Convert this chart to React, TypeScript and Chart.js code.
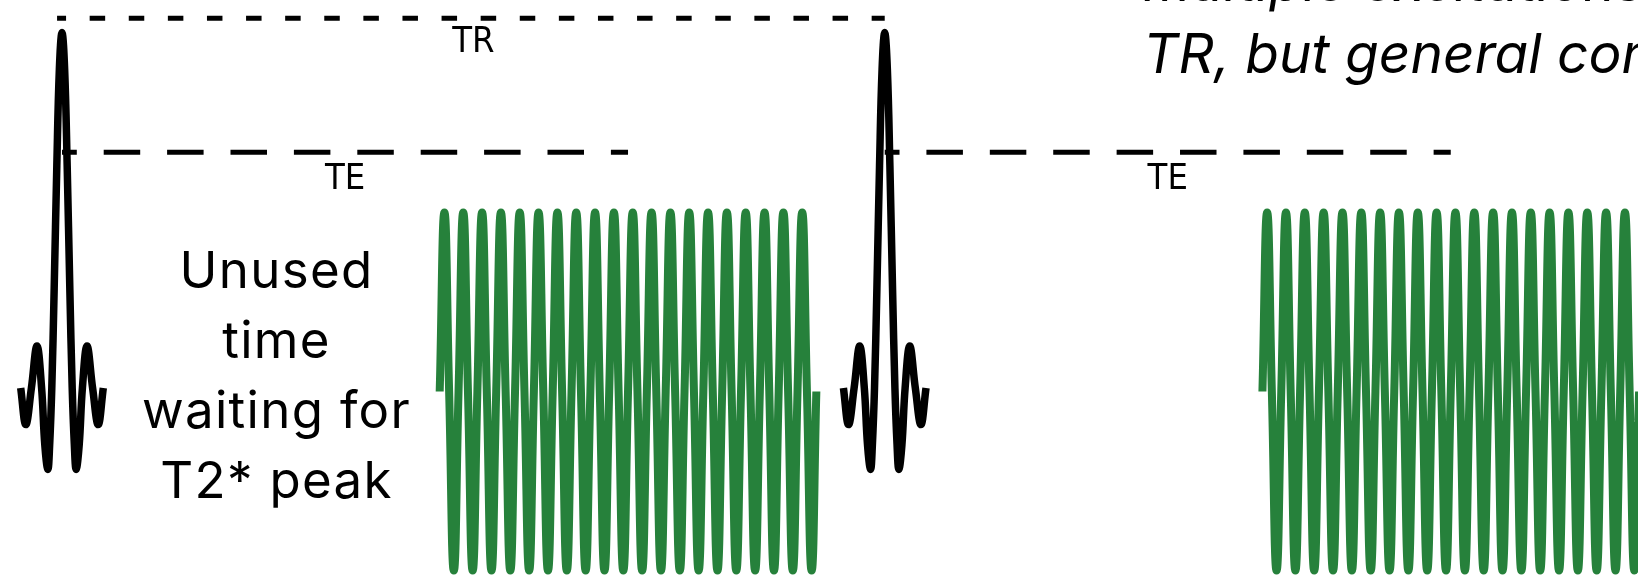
import React, { useEffect, useRef } from "react";
import { Chart, registerables } from "chart.js";

Chart.register(...registerables);

// ---- data (time in arbitrary units, TR = 100) ----
const TR = 100;
const TE = 68.8;
const ECHO_PERIOD = 2.289;

// RF excitation pulse (sinc-like)
const pulseTimes = [
  -5.02, -4.4, -3.72, -3.04, -2.48, -2.09, -1.72, -1.5, -1.24, -0.95, -0.63, -0.32, 0,
  0.32, 0.63, 0.95, 1.24, 1.5, 1.72, 2.09, 2.48, 3.04, 3.72, 4.4, 5.02,
];
const pulseAmps = [
  0, -0.103, 0, 0.118, 0, -0.16, -0.229, -0.16, 0, 0.28, 0.625, 0.897, 1,
  0.897, 0.625, 0.28, 0, -0.16, -0.229, -0.16, 0, 0.118, 0, -0.103, 0,
];

// echo signal samples (quarter-period steps), 20 cycles
const echoAmps = [
  0, 1, 0, -1, 0, 1, 0, -1, 0, 1, 0, -1, 0, 1, 0, -1,
  0, 1, 0, -1, 0, 1, 0, -1, 0, 1, 0, -1, 0, 1, 0, -1,
  0, 1, 0, -1, 0, 1, 0, -1, 0, 1, 0, -1, 0, 1, 0, -1,
  0, 1, 0, -1, 0, 1, 0, -1, 0, 1, 0, -1, 0, 1, 0, -1,
  0, 1, 0, -1, 0, 1, 0, -1, 0, 1, 0, -1, 0, 1, 0, -1,
  0,
];

const pulseStarts = [0, TR];
const trLine = [-0.6, TR];
const TR_LEVEL = 1.04;
const TE_LEVEL = 0.663;

const captionLines = ["Unused", "time", "waiting for", "T2* peak"];
const noteLines = ["multiple excitations per", "TR, but general concept"];
const trLabel = "TR";
const teLabel = "TE";

const BLACK = "#000000";
const GREEN = "rgb(38,129,59)";
const LABEL_FONT = '36px "DejaVu Sans Condensed", "Liberation Sans Narrow", "DejaVu Sans", sans-serif';

function pulsePoints(offset: number) {
  return pulseTimes.map((t, i) => ({ x: t + offset, y: pulseAmps[i] }));
}
function echoPoints(offset: number) {
  const step = ECHO_PERIOD / 4;
  const start = offset + TE - ((echoAmps.length - 1) / 2) * step;
  return echoAmps.map((a, i) => ({ x: start + i * step, y: a }));
}

const textPlugin = {
  id: "diagramText",
  afterDatasetsDraw(chart: any) {
    const { ctx, scales } = chart;
    const x = scales.x;
    const y = scales.y;
    ctx.save();
    ctx.fillStyle = BLACK;
    ctx.textAlign = "center";
    ctx.textBaseline = "alphabetic";

    // TR / TE labels
    ctx.font = LABEL_FONT;
    const trPx = y.getPixelForValue(TR_LEVEL);
    ctx.fillText(trLabel, x.getPixelForValue(TR / 2), trPx + 34);
    const tePx = y.getPixelForValue(TE_LEVEL);
    pulseStarts.forEach((s) => {
      ctx.fillText(teLabel, x.getPixelForValue(s + TE / 2), tePx + 37);
    });

    // caption
    ctx.font = '51px Inter, "Open Sans", sans-serif';
    try {
      (ctx as any).letterSpacing = "1.3px";
    } catch (e) {}
    const capX = x.getPixelForValue(26.07);
    const capY = y.getPixelForValue(0.2805);
    captionLines.forEach((line, i) => {
      ctx.fillText(line, capX, capY + i * 70);
    });
    try {
      (ctx as any).letterSpacing = "0px";
    } catch (e) {}

    // italic note top right
    ctx.font = 'italic 55px Inter, "Open Sans", sans-serif';
    ctx.textAlign = "left";
    const noteX = x.getPixelForValue(131.4);
    const noteY = y.getPixelForValue(0.885);
    noteLines.forEach((line, i) => {
      ctx.fillText(line, noteX, noteY - (noteLines.length - 1 - i) * 72);
    });
    ctx.restore();
  },
};

export default function App() {
  const canvasRef = useRef<HTMLCanvasElement | null>(null);

  useEffect(() => {
    document.body.style.margin = "0";
    const canvas = canvasRef.current;
    if (!canvas) return;

    const datasets: any[] = [];
    datasets.push({
      data: [
        { x: trLine[0], y: TR_LEVEL },
        { x: trLine[1], y: TR_LEVEL },
      ],
      borderColor: BLACK,
      borderWidth: 5,
      borderDash: [15.5, 23.6],
      borderDashOffset: 6.5,
      yAxisID: "y",
      tension: 0,
    });
    pulseStarts.forEach((s) => {
      datasets.push({
        data: [
          { x: s, y: TE_LEVEL },
          { x: s + TE, y: TE_LEVEL },
        ],
        borderColor: BLACK,
        borderWidth: 5,
        borderDash: [36.5, 26.9],
        borderDashOffset: 21.7,
        yAxisID: "y",
        tension: 0,
      });
    });
    pulseStarts.forEach((s) => {
      datasets.push({
        data: pulsePoints(s),
        borderColor: BLACK,
        borderWidth: 7.5,
        yAxisID: "y",
        tension: 0.4,
      });
    });
    pulseStarts.forEach((s) => {
      datasets.push({
        data: echoPoints(s),
        borderColor: GREEN,
        borderWidth: 8,
        yAxisID: "yEcho",
        tension: 0.5,
      });
    });

    const chart = new Chart(canvas, {
      type: "line",
      data: { datasets },
      options: {
        animation: false,
        responsive: false,
        maintainAspectRatio: false,
        events: [],
        layout: { padding: 0 },
        elements: { point: { radius: 0 } },
        plugins: { legend: { display: false }, tooltip: { enabled: false } },
        scales: {
          x: { type: "linear", display: false, min: -7.536, max: 191.56 },
          y: { type: "linear", display: false, min: -0.5345, max: 1.0914 },
          yEcho: { type: "linear", display: false, min: -1.0419, max: 2.1872 },
        },
      },
      plugins: [textPlugin],
    });
    return () => chart.destroy();
  }, []);

  return (
    <div style={{ position: "fixed", left: 0, top: 0, width: 1638, height: 578, background: "#fff" }}>
      <canvas ref={canvasRef} width={1638} height={578} style={{ width: 1638, height: 578 }} />
    </div>
  );
}
